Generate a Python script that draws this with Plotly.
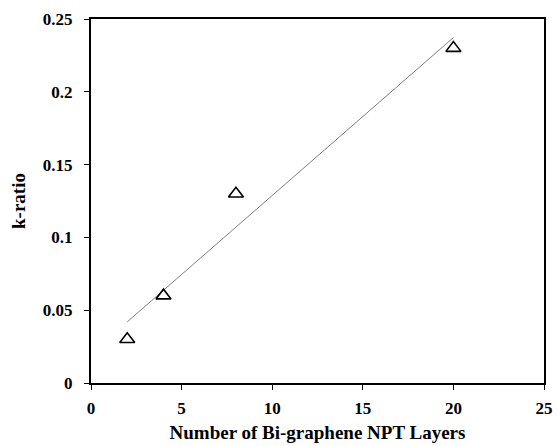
import numpy as np
import plotly.graph_objects as go

layers = [2, 4, 8, 20]
k_ratio = [0.03, 0.06, 0.13, 0.23]

x_ticks = [0, 5, 10, 15, 20, 25]
x_labels = ["0", "5", "10", "15", "20", "25"]
y_ticks = [0, 0.05, 0.1, 0.15, 0.2, 0.25]
y_labels = ["0", "0.05", "0.1", "0.15", "0.2", "0.25"]

slope, intercept = np.polyfit(layers, k_ratio, 1)
fit_x = [min(layers), max(layers)]
fit_y = [slope * v + intercept for v in fit_x]

font_family = "Liberation Serif, Times New Roman, serif"

fig = go.Figure()
fig.add_trace(go.Scatter(x=fit_x, y=fit_y, mode="lines",
                         line=dict(color="#7f7f7f", width=1), showlegend=False))
fig.add_trace(go.Scatter(x=layers, y=k_ratio, mode="markers",
                         marker=dict(symbol="triangle-up-open", size=13,
                                     color="black", line=dict(color="black", width=1.6)),
                         showlegend=False))

axis_common = dict(showgrid=False, zeroline=False, showline=True, linecolor="black",
                   linewidth=2, mirror=True, ticks="outside", ticklen=5, tickwidth=1,
                   tickcolor="black", automargin=False,
                   tickfont=dict(family=font_family, size=17, color="black", weight=700))

fig.update_layout(
    width=558, height=446,
    margin=dict(l=91, r=14, t=19, b=63),
    plot_bgcolor="white", paper_bgcolor="white",
    xaxis=dict(range=[0, 25], tickvals=x_ticks,
               ticktext=["<b>%s</b>" % t for t in x_labels], ticklabelstandoff=4,
               title=dict(text="<b>Number of Bi-graphene NPT Layers</b>", standoff=8,
                          font=dict(family=font_family, size=19, color="black")),
               **axis_common),
    yaxis=dict(range=[0, 0.25], tickvals=y_ticks,
               ticktext=["<b>%s</b>" % t for t in y_labels], ticklabelstandoff=8,
               title=dict(text="<b>k-ratio</b>", standoff=12,
                          font=dict(family=font_family, size=19, color="black")),
               **axis_common),
)

fig.write_html("out.html")
